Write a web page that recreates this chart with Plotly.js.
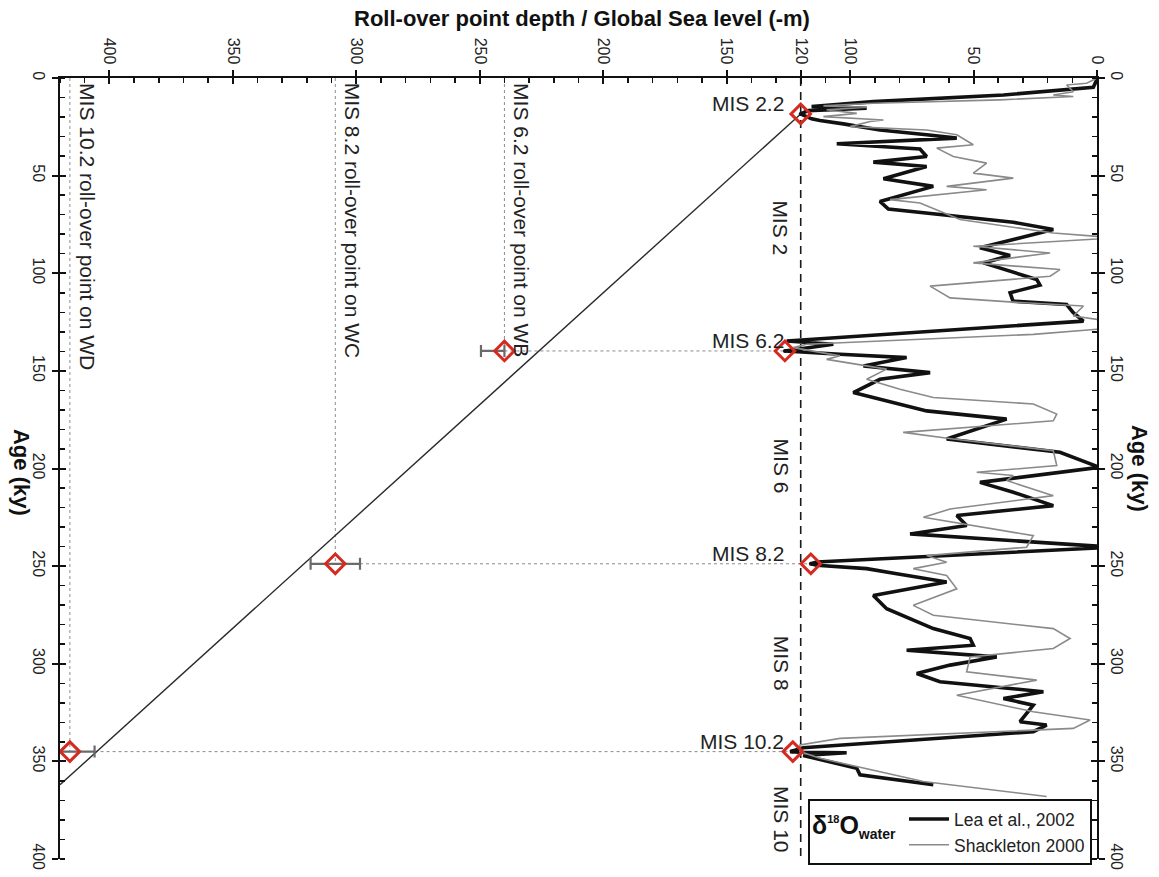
<!DOCTYPE html>
<html>
<head>
<meta charset="utf-8">
<script src="https://cdn.plot.ly/plotly-3.0.1.min.js"></script>
<style>html,body{margin:0;padding:0;background:#fff;}#chart{width:1159px;height:877px;}</style>
</head>
<body>
<div id="chart"></div>
<script>
// ---------- data ----------
const depthTicks = [0, 50, 100, 120, 150, 200, 250, 300, 350, 400];
const ageTicks = [0, 50, 100, 150, 200, 250, 300, 350, 400];

// Lea et al., 2002 (sea level, -m) vs age (ky)
const leaAge = [0.7, 4.8, 8.7, 12.1, 14.6, 15.5, 16.7, 18.4, 20.9, 21.8, 23.5, 26.6, 29.1, 30.8, 33.7, 36.4, 40.2, 43.1, 45.3, 51.6, 55.5, 63.2, 67.1, 70.5, 73.9, 77.6, 87, 90.9, 94.7, 103.2, 106.1, 110, 114.3, 116, 120.2, 124.5, 134.7, 136.4, 138.6, 139.8, 141.5, 143.2, 147.5, 150.9, 154.3, 161.1, 170.5, 174.7, 184.9, 191.7, 199.4, 207.1, 212.2, 219, 224.1, 229.2, 233.5, 240.3, 247.9, 248.8, 249.6, 251.3, 253.9, 258.1, 265, 271.8, 282, 287.1, 290.5, 293.1, 296.5, 300.7, 305, 309.2, 314.3, 317.8, 321.2, 329.7, 331.4, 334.8, 343, 345, 345.3, 345.6, 347, 353.5, 356.9, 362];
const leaDepth = [0, 1.5, 37.9, 90.6, 115.6, 93.3, 116.9, 120.1, 115.6, 112.2, 102.7, 87.9, 69, 56.8, 105.4, 71.7, 69, 90.6, 69, 86.5, 66.3, 87.9, 84.5, 58.2, 33.9, 17.7, 47.4, 35.2, 46, 24.4, 23.1, 35.2, 34, 12.3, 9.6, 5.5, 125.7, 106.8, 120.3, 126.4, 104.1, 77.1, 94.6, 67.6, 87.9, 98.7, 69, 36.6, 60.9, 15, -1, 47.4, 33.9, 17.7, 56.8, 52.8, 75.7, -6.6, 113.5, 115.9, 113.5, 93.3, 81.1, 60.9, 90.6, 85.2, 66.3, 51.4, 50.1, 77.1, 40.6, 59.5, 73, 63.6, 21.7, 37.9, 25.8, 31.2, 20.4, 25.8, 119, 124.3, 120.3, 101.4, 119, 97.3, 96, 66.3];

// Shackleton 2000
const shAge = [0, 2.7, 3.6, 7, 8.7, 9.5, 11.2, 12.9, 14.3, 15, 16.3, 18.1, 19.8, 20.6, 21.5, 22.3, 24.9, 26.6, 29.1, 34.2, 35.9, 40.2, 43.6, 48.7, 51.3, 55.5, 57.2, 62.3, 64, 72.5, 79.4, 81.9, 86.2, 89.6, 94.7, 98.1, 101.5, 106.6, 112.6, 114.8, 116.8, 121.9, 125.3, 127.9, 131.3, 136.4, 138.1, 142.3, 144.1, 149.1, 154.3, 159.4, 163.6, 167, 172.1, 175.6, 181.5, 184.9, 190.9, 198.5, 201.9, 203.6, 206.2, 213.9, 220.7, 225, 234.4, 240.3, 244.6, 248, 251.3, 254.8, 261.6, 270.1, 275.2, 282, 287.1, 292.2, 296.5, 304.1, 308.4, 316.1, 324.6, 328.8, 333.1, 338.2, 341.6, 345, 348.4, 360.3, 368];
const shDepth = [0, 4.2, 12.3, 9.6, 17.7, 9.6, 39.3, 90.6, 110.8, 93.3, 109.5, 97.3, 110.8, 101.4, 86.5, 91.9, 100, 69, 56.8, 50.1, 64.9, 58.2, 44.7, 50.1, 33.9, 60.9, 44.7, 83.8, 71.7, 55.5, 17.7, -8, 50.1, 19, 50.1, 15, 19, 67.6, 59.5, 33.9, 5.5, 9.6, -9.3, -8, 25.8, 117.6, 123, 104.1, 109.5, 85.2, 93.3, 79.8, 66.3, 25.8, 16.3, 17.7, 78.5, 58.2, 17.7, 16.3, 48.7, 33.9, 36.6, 17.7, 59.5, 70.3, 25.8, 28.5, 69, 60.9, 74.4, 60.9, 56.8, 74.4, 66.3, 17.7, 10.9, 17.7, 51.4, 52.8, 24.4, 56.8, 25.8, 2.8, 9.6, 104.1, 120.3, 120.3, 112.2, 70.3, 20.4];

// glacial maxima (MIS x.2) on the sea-level curve
const misNames = ['MIS 2.2', 'MIS 6.2', 'MIS 8.2', 'MIS 10.2'];
const misAge = [18.4, 139.8, 248.8, 345];
const misDepth = [120, 126.4, 115.9, 123.2];

// roll-over points
const rollNames = ['MIS 6.2 roll-over point on WB', 'MIS 8.2 roll-over point on WC', 'MIS 10.2 roll-over point on WD'];
const rollAge = [139.8, 248.8, 345];
const rollDepth = [240, 308.5, 416];
const rollErrPlus = [9.5, 10, 10];
const rollErrMinus = [0, 10, 10];

// glacial stages
const stageNames = ['MIS 2', 'MIS 6', 'MIS 8', 'MIS 10'];
const stageAge = [77, 199, 300, 380];

// reference lines
const lgmLevel = 120;
const trendDepth = [120, 420];
const trendAge = [18.4, 362];

// ---------- build ----------
const FONT = 'Arial, "Liberation Sans", Helvetica, sans-serif';
const RED = '#d42a20';
const traces = [];

rollDepth.forEach((d, i) => {
  traces.push({x: [d, d], y: [0, rollAge[i]], mode: 'lines', showlegend: false, hoverinfo: 'skip',
    line: {color: '#8c8c8c', width: 1, dash: '3px,3px'}});
  traces.push({x: [d - rollErrMinus[i], misDepth[i + 1]], y: [rollAge[i], misAge[i + 1]], mode: 'lines', showlegend: false, hoverinfo: 'skip',
    line: {color: '#8c8c8c', width: 1, dash: '3px,3px'}});
});

traces.push({x: [lgmLevel, lgmLevel], y: [0, 400], mode: 'lines', showlegend: false, hoverinfo: 'skip',
  line: {color: '#1a1a1a', width: 1.6, dash: '8px,6px'}});

traces.push({x: trendDepth, y: trendAge, mode: 'lines', showlegend: false, hoverinfo: 'skip',
  line: {color: '#2a2a2a', width: 1.4}});

traces.push({x: leaDepth, y: leaAge, mode: 'lines', name: 'Lea et al., 2002',
  line: {color: '#111111', width: 3.6}});
traces.push({x: shDepth, y: shAge, mode: 'lines', name: 'Shackleton 2000',
  line: {color: '#8a8a8a', width: 1.6}});

traces.push({x: rollDepth, y: rollAge, mode: 'markers', showlegend: false, text: rollNames, hoverinfo: 'text',
  marker: {symbol: 'diamond-open', size: 15, color: RED, line: {width: 3, color: RED}},
  error_x: {type: 'data', symmetric: false, array: rollErrPlus, arrayminus: rollErrMinus, color: '#6a6a6a', thickness: 2.2, width: 6}});

traces.push({x: misDepth, y: misAge, mode: 'markers', showlegend: false, text: misNames, hoverinfo: 'text',
  marker: {symbol: 'diamond-open', size: 15, color: RED, line: {width: 3, color: RED}}});
traces.push({x: misDepth, y: misAge, mode: 'markers', showlegend: false, hoverinfo: 'skip',
  marker: {symbol: 'circle', size: 4, color: '#111'}});

// empty traces that attach the overlay axes (right axis, crossing major ticks)
traces.push({x: [null], y: [null], xaxis: 'x2', yaxis: 'y', showlegend: false, hoverinfo: 'skip'});
traces.push({x: [null], y: [null], xaxis: 'x', yaxis: 'y2', showlegend: false, hoverinfo: 'skip'});
traces.push({x: [null], y: [null], xaxis: 'x', yaxis: 'y3', showlegend: false, hoverinfo: 'skip'});
traces.push({x: [null], y: [null], xaxis: 'x', yaxis: 'y4', showlegend: false, hoverinfo: 'skip'});

const XR = [420, 0], YR = [400, 0];
const tickFont = {family: FONT, size: 16, color: '#222'};
const minorCfg = {tickmode: 'linear', tick0: 0, dtick: 10, ticks: 'inside', ticklen: 5, tickwidth: 1.5, tickcolor: '#111'};

const annotations = [];
misNames.forEach((n, i) => {
  annotations.push({x: 126, y: misAge[i], xref: 'x', yref: 'y', text: n, showarrow: false,
    xanchor: 'right', yanchor: 'middle', yshift: 10, font: {family: FONT, size: 21, color: '#222'}});
});
stageNames.forEach((n, i) => {
  annotations.push({x: 128, y: stageAge[i], xref: 'x', yref: 'y', text: n, showarrow: false, textangle: 90,
    xanchor: 'center', yanchor: 'middle', font: {family: FONT, size: 21, color: '#222'}});
});
rollNames.forEach((n, i) => {
  annotations.push({x: rollDepth[i], y: 0, xref: 'x', yref: 'y', text: n, showarrow: false, textangle: 90,
    xanchor: 'left', yanchor: 'top', xshift: 4, yshift: -3, font: {family: FONT, size: 21, color: '#222'}});
});
annotations.push({x: 0.503, y: 1.0766, xref: 'paper', yref: 'paper', showarrow: false, xanchor: 'center', yanchor: 'middle',
  text: '<b>Roll-over point depth / Global Sea level (-m)</b>', font: {family: FONT, size: 22, color: '#111'}});
annotations.push({x: -0.0366, y: 0.4955, xref: 'paper', yref: 'paper', showarrow: false, textangle: 90, xanchor: 'center', yanchor: 'middle',
  text: '<b>Age (ky)</b>', font: {family: FONT, size: 22, color: '#111'}});
annotations.push({x: 1.0405, y: 0.4994, xref: 'paper', yref: 'paper', showarrow: false, textangle: 90, xanchor: 'center', yanchor: 'middle',
  text: '<b>Age (ky)</b>', font: {family: FONT, size: 22, color: '#111'}});

const crossAxis = {range: YR, tickmode: 'array', tickvals: ageTicks, ticks: 'inside', ticklen: 6, tickwidth: 2,
  tickcolor: '#111', showticklabels: false, showline: false, showgrid: false, zeroline: false, anchor: 'x', overlaying: 'y'};

const layout = {
  width: 1159, height: 877,
  margin: {l: 60, r: 62, t: 78, b: 16},
  paper_bgcolor: '#ffffff', plot_bgcolor: '#ffffff',
  font: {family: FONT, color: '#222'},
  hovermode: false,
  xaxis: {side: 'top', range: XR, tickmode: 'array', tickvals: depthTicks, ticktext: depthTicks.map(String), tickangle: 90,
    ticks: 'outside', ticklen: 6, tickwidth: 2, tickcolor: '#111', showline: true, linecolor: '#111', linewidth: 2,
    showgrid: false, zeroline: false, tickfont: tickFont, minor: minorCfg, anchor: 'y'},
  xaxis2: {overlaying: 'x', side: 'top', range: XR, tickmode: 'array', tickvals: depthTicks, ticks: 'inside', ticklen: 6, tickwidth: 2,
    tickcolor: '#111', showticklabels: false, showline: false, showgrid: false, zeroline: false, anchor: 'y'},
  yaxis: {range: YR, tickmode: 'array', tickvals: ageTicks, ticktext: ageTicks.map(String), tickangle: 90, side: 'left',
    ticks: 'outside', ticklen: 6, tickwidth: 2, tickcolor: '#111', showline: true, linecolor: '#111', linewidth: 2,
    showgrid: false, zeroline: false, tickfont: tickFont, minor: minorCfg, anchor: 'x'},
  yaxis2: {overlaying: 'y', side: 'right', range: YR, tickmode: 'array', tickvals: ageTicks, ticktext: ageTicks.map(String), tickangle: 90,
    ticks: 'outside', ticklen: 6, tickwidth: 2, tickcolor: '#111', showline: true, linecolor: '#111', linewidth: 2,
    showgrid: false, zeroline: false, tickfont: tickFont, minor: minorCfg, anchor: 'x'},
  yaxis3: Object.assign({}, crossAxis, {side: 'left'}),
  yaxis4: Object.assign({}, crossAxis, {side: 'right'}),
  showlegend: true,
  legend: {x: 0.7213, y: 0.0766, xanchor: 'left', yanchor: 'top', bgcolor: '#ffffff', bordercolor: '#111', borderwidth: 2,
    font: {family: FONT, size: 17.5, color: '#222'},
    title: {text: '<b>δ<sup><span style="font-size:11px">18</span></sup>O<sub><span style="font-size:14px">water</span></sub></b>', side: 'left',
      font: {family: FONT, size: 25, color: '#111'}},
    tracegroupgap: 0, itemwidth: 40},
  annotations: annotations
};

Plotly.newPlot('chart', traces, layout, {staticPlot: true, displayModeBar: false});
</script>
</body>
</html>
